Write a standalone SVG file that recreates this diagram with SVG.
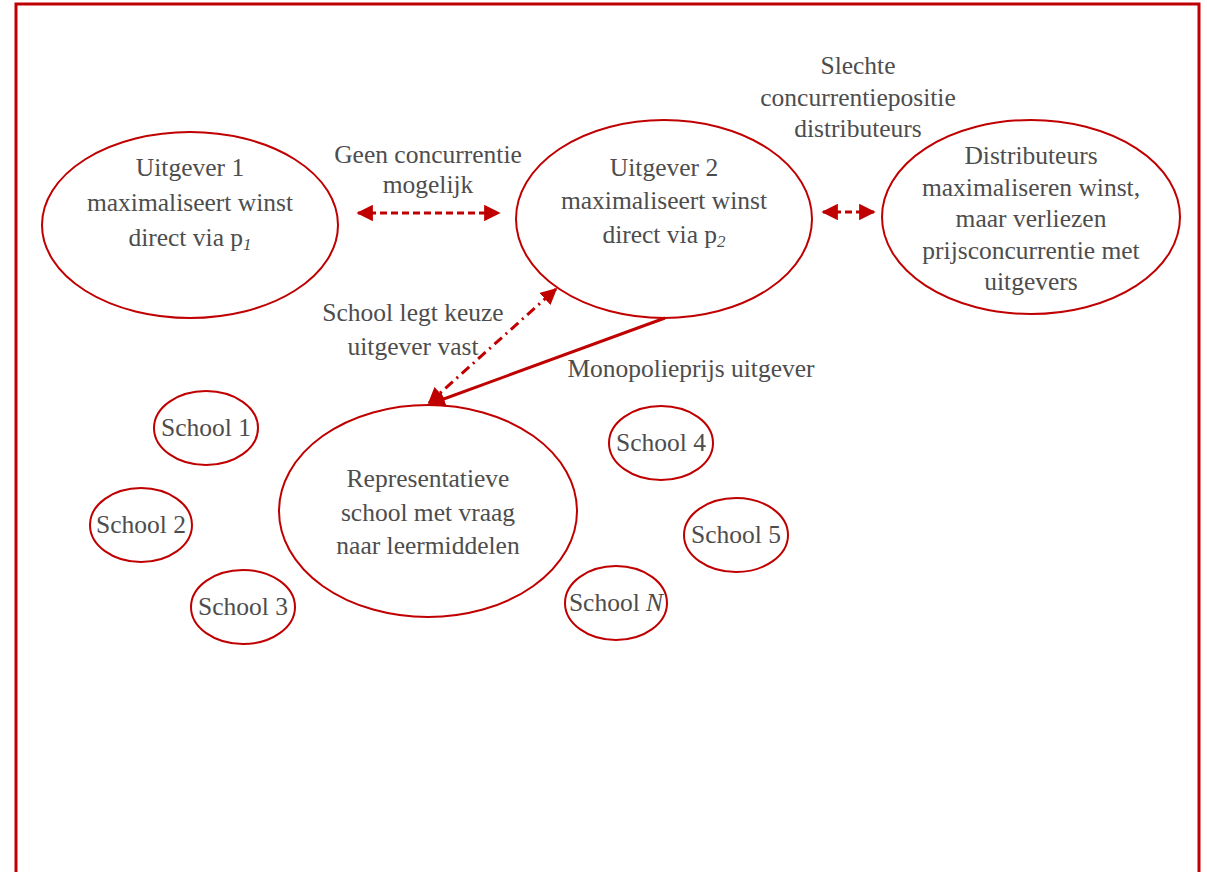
<svg xmlns="http://www.w3.org/2000/svg" width="1207" height="872" viewBox="0 0 1207 872">
<style>
.n{fill:#fff;stroke:#c00000;stroke-width:2}
.t{font-family:"Liberation Serif",serif;font-size:25.5px;fill:#4d4d4d;text-anchor:middle}
.c{stroke:#c00000;stroke-width:3;fill:none}
</style>
<defs>
<marker id="ah" viewBox="0 0 10 10" refX="9" refY="5" markerWidth="5.5" markerHeight="5.5" orient="auto-start-reverse" markerUnits="strokeWidth"><path d="M0,0 L10,5 L0,10 z" fill="#c00000"/></marker>
</defs>
<rect x="16" y="4" width="1183" height="880" fill="none" stroke="#c00000" stroke-width="3"/>
<g id="uitgever1"><ellipse class="n" cx="190" cy="225" rx="148" ry="93"/>
<text class="t" x="190" y="176">Uitgever 1</text><text class="t" x="190" y="211">maximaliseert winst</text><text class="t" x="190" y="246">direct via p<tspan font-style="italic" font-size="17" dy="4">1</tspan></text></g>
<g id="uitgever2"><ellipse class="n" cx="664" cy="219" rx="148" ry="99"/>
<text class="t" x="664" y="176">Uitgever 2</text><text class="t" x="664" y="209">maximaliseert winst</text><text class="t" x="664" y="243">direct via p<tspan font-style="italic" font-size="17" dy="4">2</tspan></text></g>
<g id="distributeurs"><ellipse class="n" cx="1031" cy="217" rx="149" ry="97"/>
<text class="t" x="1031" y="164">Distributeurs</text><text class="t" x="1031" y="196">maximaliseren winst,</text><text class="t" x="1031" y="227">maar verliezen</text><text class="t" x="1031" y="259">prijsconcurrentie met</text><text class="t" x="1031" y="290">uitgevers</text></g>
<g id="representatief"><ellipse class="n" cx="428" cy="511" rx="149" ry="106"/>
<text class="t" x="428" y="487">Representatieve</text><text class="t" x="428" y="521">school met vraag</text><text class="t" x="428" y="554">naar leermiddelen</text></g>
<g id="school1"><ellipse class="n" cx="206" cy="428" rx="52" ry="37"/><text class="t" x="206" y="436">School 1</text></g>
<g id="school2"><ellipse class="n" cx="141" cy="525" rx="51" ry="37"/><text class="t" x="141" y="533">School 2</text></g>
<g id="school3"><ellipse class="n" cx="243" cy="607" rx="52" ry="37"/><text class="t" x="243" y="615">School 3</text></g>
<g id="school4"><ellipse class="n" cx="661" cy="443" rx="52" ry="37"/><text class="t" x="661" y="451">School 4</text></g>
<g id="school5"><ellipse class="n" cx="736" cy="535" rx="52" ry="37"/><text class="t" x="736" y="543">School 5</text></g>
<g id="schoolN"><ellipse class="n" cx="616" cy="603" rx="51" ry="37"/><text class="t" x="616" y="611">School <tspan font-style="italic">N</tspan></text></g>
<g id="connectors">
<line class="c" x1="358" y1="213" x2="499" y2="213" stroke-dasharray="7,4" marker-start="url(#ah)" marker-end="url(#ah)"/>
<line class="c" x1="823" y1="212" x2="874" y2="212" stroke-dasharray="7,4" marker-start="url(#ah)" marker-end="url(#ah)"/>
<line class="c" x1="429" y1="403" x2="556" y2="289" stroke-dasharray="10,5,2,5" marker-start="url(#ah)" marker-end="url(#ah)"/>
<line class="c" x1="665" y1="318" x2="430" y2="404" marker-end="url(#ah)"/>
</g>
<g id="labels">
<text class="t" x="428" y="163">Geen concurrentie</text><text class="t" x="428" y="193">mogelijk</text>
<text class="t" x="858" y="74">Slechte</text><text class="t" x="858" y="106">concurrentiepositie</text><text class="t" x="858" y="137">distributeurs</text>
<text class="t" x="413" y="321">School legt keuze</text><text class="t" x="413" y="355">uitgever vast</text>
<text class="t" x="691" y="377">Monopolieprijs uitgever</text>
</g>
</svg>
